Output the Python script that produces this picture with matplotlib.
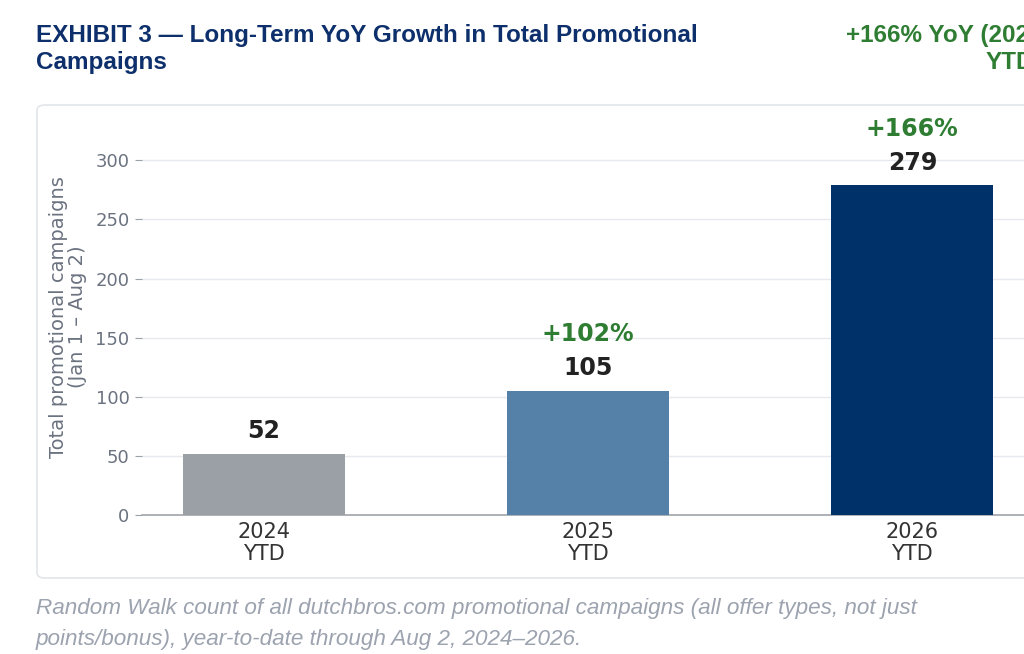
import matplotlib
matplotlib.use("Agg")
import matplotlib.pyplot as plt
from matplotlib.patches import FancyBboxPatch

categories = ["2024\nYTD", "2025\nYTD", "2026\nYTD"]
values = [52, 105, 279]
yoy_labels = ["", "+102%", "+166%"]
bar_colors = ["#9aa0a6", "#5580a8", "#003168"]
yticks = [0, 50, 100, 150, 200, 250, 300]

title = "EXHIBIT 3 — Long-Term YoY Growth in Total Promotional\nCampaigns"
badge = "+166% YoY (2026\nYTD)"
ylabel = "Total promotional campaigns\n(Jan 1 – Aug 2)"
caption = ("Random Walk count of all dutchbros.com promotional campaigns (all offer types, not just\n"
           "points/bonus), year-to-date through Aug 2, 2024–2026.")

W, H = 1024, 654
fig = plt.figure(figsize=(W / 100, H / 100), dpi=100)
fig.patch.set_facecolor("white")

def fx(px):
    return px / W

def fy(py):
    return 1 - py / H

# card
card = FancyBboxPatch((fx(37), fy(578)), fx(1150) - fx(37), fy(105) - fy(578),
                      boxstyle="round,pad=0,rounding_size=0.008",
                      transform=fig.transFigure, facecolor="white",
                      edgecolor="#e3e6ea", linewidth=1.2, zorder=-5)
fig.patches.append(card)

fig.text(fx(36), fy(24), title, ha="left", va="top", fontsize=17.5,
         fontweight="bold", color="#0d2f6b", family="Liberation Sans",
         linespacing=1.25)
fig.text(fx(1042), fy(24), badge, ha="right", va="top", fontsize=17.5,
         fontweight="bold", color="#2e7d32", family="Liberation Sans",
         linespacing=1.25, multialignment="right")

ax = fig.add_axes([fx(142), fy(515), fx(1034) - fx(142), fy(119) - fy(515)])
ax.set_zorder(2)
ax.set_facecolor("none")
x = list(range(len(categories)))
bars = ax.bar(x, values, width=0.5, color=bar_colors, zorder=3)
ax.set_xlim(-0.375, 2.375)
ax.set_ylim(0, 335)
ax.set_yticks(yticks)
ax.set_xticks(x)
ax.set_xticklabels(categories, fontsize=15, color="#333333", linespacing=1.12)
ax.tick_params(axis="x", length=0, pad=5)
ax.tick_params(axis="y", length=5, color="#9aa0a6", labelcolor="#6b7280",
               labelsize=13, pad=4)
ax.grid(axis="y", color="#e6e9ee", linewidth=1, zorder=0)
for s in ["top", "right", "left"]:
    ax.spines[s].set_visible(False)
ax.spines["bottom"].set_color("#a0a4aa")
ax.spines["bottom"].set_linewidth(1.2)
ax.set_ylabel(ylabel, fontsize=14, color="#6b7280", labelpad=6, linespacing=1.0)

for xi, v, yl in zip(x, values, yoy_labels):
    ax.annotate(str(v), (xi, v), xytext=(0, 7.5), textcoords="offset points",
                ha="center", va="bottom", fontsize=17, fontweight="bold",
                color="#222222", zorder=4)
    if yl:
        ax.annotate(yl, (xi, v), xytext=(0, 32), textcoords="offset points",
                    ha="center", va="bottom", fontsize=17, fontweight="bold",
                    color="#2e7d32", zorder=4)

fig.text(fx(36), fy(598), caption, ha="left", va="top", fontsize=16.2,
         style="italic", color="#9ca3af", family="Liberation Sans",
         linespacing=1.6)

fig.savefig("out.png", dpi=100)
